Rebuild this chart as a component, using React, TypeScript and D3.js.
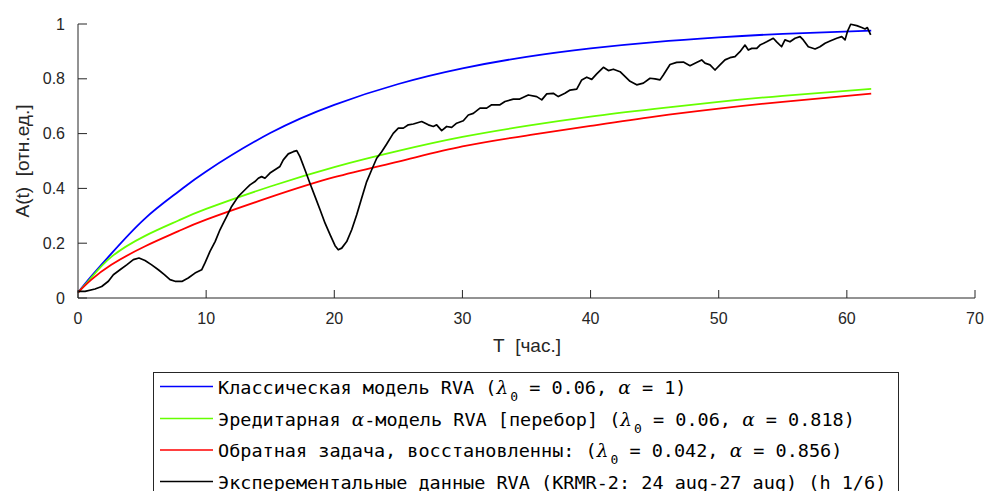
import React from "react";
import * as d3 from "d3";

// ---- data ----
const modelT = [0, 1, 2.6, 5.2, 7.8, 10, 15, 20, 25, 30, 35, 40, 45, 50, 55, 61.9];
const classicA = [0.02, 0.077, 0.162, 0.289, 0.387, 0.462, 0.602, 0.705, 0.781, 0.838, 0.88, 0.911, 0.934, 0.951, 0.964, 0.976];
const hereditaryA = [0.02, 0.072, 0.15, 0.226, 0.282, 0.325, 0.407, 0.478, 0.537, 0.588, 0.628, 0.662, 0.69, 0.716, 0.738, 0.763];
const inverseA = [0.02, 0.065, 0.121, 0.188, 0.243, 0.286, 0.368, 0.441, 0.498, 0.553, 0.593, 0.628, 0.662, 0.691, 0.716, 0.746];

const expT = [
  0, 0.55, 1.33, 1.85, 2.37, 2.76, 3.28, 3.8, 4.32, 4.76, 5.23, 5.75, 6.27, 6.74, 7.18, 7.57, 8.14, 8.6, 9.13, 9.65,
  9.91, 10.3, 10.7, 11.08, 11.34, 11.6, 11.99, 12.5, 13.03, 13.42, 13.81, 14.07, 14.33, 14.59, 14.98, 15.37, 15.76,
  16.02, 16.41, 16.8, 17.07, 17.32, 17.71, 18.1, 18.5, 18.89, 19.28, 19.67, 20.06, 20.31, 20.58, 20.97, 21.36, 21.75,
  22.14, 22.53, 22.92, 23.31, 23.7, 24.09, 24.6, 25.0, 25.39, 25.78, 26.17, 26.82, 27.34, 27.73, 27.99, 28.38, 28.77,
  29.16, 29.55, 30.07, 30.46, 30.85, 31.37, 31.89, 32.28, 32.93, 33.32, 33.97, 34.47, 35.14, 35.8, 36.19, 36.58,
  37.09, 37.48, 38.0, 38.4, 38.92, 39.31, 39.7, 40.09, 40.48, 41.0, 41.39, 41.78, 42.3, 42.56, 43.08, 43.6, 44.12,
  44.64, 45.03, 45.42, 45.68, 46.2, 46.72, 47.24, 47.76, 48.15, 48.67, 48.93, 49.32, 49.71, 50.1, 50.49, 50.88,
  51.27, 51.66, 52.05, 52.31, 52.58, 52.97, 53.22, 53.74, 54.26, 54.52, 54.91, 55.17, 55.56, 55.96, 56.35, 56.6,
  56.99, 57.52, 57.9, 58.3, 58.69, 59.21, 59.6, 59.86, 60.04, 60.3, 60.77, 61.16, 61.42, 61.6, 61.86,
];
const expA = [
  0.024, 0.024, 0.033, 0.042, 0.061, 0.085, 0.103, 0.121, 0.14, 0.146, 0.137, 0.121, 0.103, 0.085, 0.067, 0.061, 0.061, 0.073, 0.091, 0.103,
  0.128, 0.17, 0.206, 0.249, 0.273, 0.297, 0.334, 0.37, 0.395, 0.413, 0.425, 0.437, 0.443, 0.437, 0.456, 0.468, 0.48,
  0.504, 0.526, 0.534, 0.538, 0.516, 0.468, 0.419, 0.37, 0.322, 0.273, 0.231, 0.191, 0.176, 0.182, 0.206, 0.249, 0.304,
  0.365, 0.425, 0.468, 0.51, 0.534, 0.562, 0.601, 0.62, 0.62, 0.632, 0.635, 0.644, 0.632, 0.626, 0.632, 0.611, 0.626,
  0.623, 0.638, 0.647, 0.668, 0.674, 0.693, 0.693, 0.705, 0.705, 0.717, 0.726, 0.726, 0.741, 0.735, 0.723, 0.745,
  0.747, 0.735, 0.747, 0.759, 0.762, 0.796, 0.806, 0.798, 0.818, 0.842, 0.83, 0.835, 0.826, 0.814, 0.791, 0.778, 0.784,
  0.802, 0.8, 0.796, 0.814, 0.852, 0.86, 0.861, 0.848, 0.857, 0.869, 0.857, 0.851, 0.832, 0.851, 0.869, 0.877,
  0.881, 0.899, 0.923, 0.905, 0.911, 0.911, 0.923, 0.935, 0.948, 0.935, 0.917, 0.942, 0.935, 0.948, 0.954, 0.942,
  0.917, 0.909, 0.917, 0.93, 0.938, 0.948, 0.954, 0.942, 0.972, 0.999, 0.994, 0.987, 0.982, 0.987, 0.96,
];

const xTicks = [0, 10, 20, 30, 40, 50, 60, 70];
const yTicks = [0, 0.2, 0.4, 0.6, 0.8, 1];
const yTickLabels = ["0", "0.2", "0.4", "0.6", "0.8", "1"];
const xLabel = "T\u00A0\u00A0[час.]";
const yLabel = "A(t)\u00A0\u00A0[отн.ед.]";

const legendLambda = ["0.06", "0.06", "0.042"];
const legendAlpha = ["1", "0.818", "0.856"];
const legendLast = "Эксперементальные данные RVA (KRMR-2: 24 aug-27 aug) (h 1/6)";
const colors = ["#0000ff", "#66ff00", "#ff0000", "#000000"];

const W = 984;
const H = 491;
const AX = "#262626";
const MONO = "'DejaVu Sans Mono', monospace";
const GREEK = "'DejaVu Serif', serif";
const SANS = "'Liberation Sans', Arial, sans-serif";

export default function App() {
  const x = d3.scaleLinear().domain([0, 70]).range([78, 975]);
  const y = d3.scaleLinear().domain([0, 1]).range([298, 24]);

  const smooth = d3
    .line<number>()
    .x((_, i) => x(modelT[i]))
    .y((d) => y(d))
    .curve(d3.curveNatural);
  const raw = d3
    .line<number>()
    .x((_, i) => x(expT[i]))
    .y((d) => y(d));

  const rowY = [386.5, 418.5, 450, 481.5];
  const fs = 18.5;

  const Lam = ({ v }: { v: string }) => (
    <>
      <tspan fontFamily={GREEK} fontStyle="italic">λ</tspan>
      <tspan fontSize={13} dy={9} dx={2}>0</tspan>
      <tspan dy={-9}>{`\u00A0=\u00A0${v},\u00A0`}</tspan>
    </>
  );
  const Alp = ({ v }: { v: string }) => (
    <>
      <tspan fontFamily={GREEK} fontStyle="italic">α</tspan>
      <tspan>{`\u00A0=\u00A0${v})`}</tspan>
    </>
  );

  return (
    <svg
      width={W}
      height={H}
      style={{ position: "absolute", left: 0, top: 0, background: "#fff" }}
      xmlns="http://www.w3.org/2000/svg"
    >
      <rect x={0} y={0} width={W} height={H} fill="#fff" />
      {/* curves */}
      <path d={smooth(classicA) || ""} fill="none" stroke={colors[0]} strokeWidth={1.8} />
      <path d={smooth(hereditaryA) || ""} fill="none" stroke={colors[1]} strokeWidth={1.8} />
      <path d={smooth(inverseA) || ""} fill="none" stroke={colors[2]} strokeWidth={1.8} />
      <path d={raw(expA) || ""} fill="none" stroke={colors[3]} strokeWidth={1.7} strokeLinejoin="round" />

      {/* axes */}
      <line x1={x(0)} x2={x(70)} y1={y(0)} y2={y(0)} stroke={AX} strokeWidth={1} />
      <line x1={x(0)} x2={x(0)} y1={y(0)} y2={y(1)} stroke={AX} strokeWidth={1} />
      {xTicks.map((t) => (
        <g key={"xt" + t}>
          <line x1={x(t)} x2={x(t)} y1={y(0)} y2={y(0) - 8} stroke={AX} strokeWidth={1} />
          <text x={x(t)} y={318} textAnchor="middle" dominantBaseline="central" fontFamily={SANS} fontSize={16} fill={AX}>
            {t}
          </text>
        </g>
      ))}
      {yTicks.map((t, i) => (
        <g key={"yt" + t}>
          <line x1={x(0)} x2={x(0) + 9} y1={y(t)} y2={y(t)} stroke={AX} strokeWidth={1} />
          <text x={65} y={y(t)} textAnchor="end" dominantBaseline="central" fontFamily={SANS} fontSize={16} fill={AX}>
            {yTickLabels[i]}
          </text>
        </g>
      ))}
      <text x={527} y={345} textAnchor="middle" dominantBaseline="central" fontFamily={SANS} fontSize={19} fill={AX}>
        {xLabel}
      </text>
      <text
        transform={`translate(22,161) rotate(-90)`}
        textAnchor="middle"
        dominantBaseline="central"
        fontFamily={SANS}
        fontSize={19}
        fill={AX}
      >
        {yLabel}
      </text>

      {/* legend */}
      <rect x={153.5} y={372.5} width={745} height={140} fill="#fff" stroke={AX} strokeWidth={1} />
      {rowY.map((ry, i) => (
        <g key={"lg" + i}>
          <line x1={160} x2={213} y1={ry} y2={ry} stroke={colors[i]} strokeWidth={1.5} />
          <text x={218} y={ry} dominantBaseline="central" fontFamily={MONO} fontSize={fs} fill="#000">
            {i === 0 && (
              <>
                <tspan>{"Классическая модель RVA ("}</tspan>
                <Lam v={legendLambda[0]} />
                <Alp v={legendAlpha[0]} />
              </>
            )}
            {i === 1 && (
              <>
                <tspan>{"Эредитарная\u00A0"}</tspan>
                <tspan fontFamily={GREEK} fontStyle="italic">α</tspan>
                <tspan>{"-модель RVA [перебор] ("}</tspan>
                <Lam v={legendLambda[1]} />
                <Alp v={legendAlpha[1]} />
              </>
            )}
            {i === 2 && (
              <>
                <tspan>{"Обратная задача, восстановленны: ("}</tspan>
                <Lam v={legendLambda[2]} />
                <Alp v={legendAlpha[2]} />
              </>
            )}
            {i === 3 && <tspan>{legendLast}</tspan>}
          </text>
        </g>
      ))}
    </svg>
  );
}
